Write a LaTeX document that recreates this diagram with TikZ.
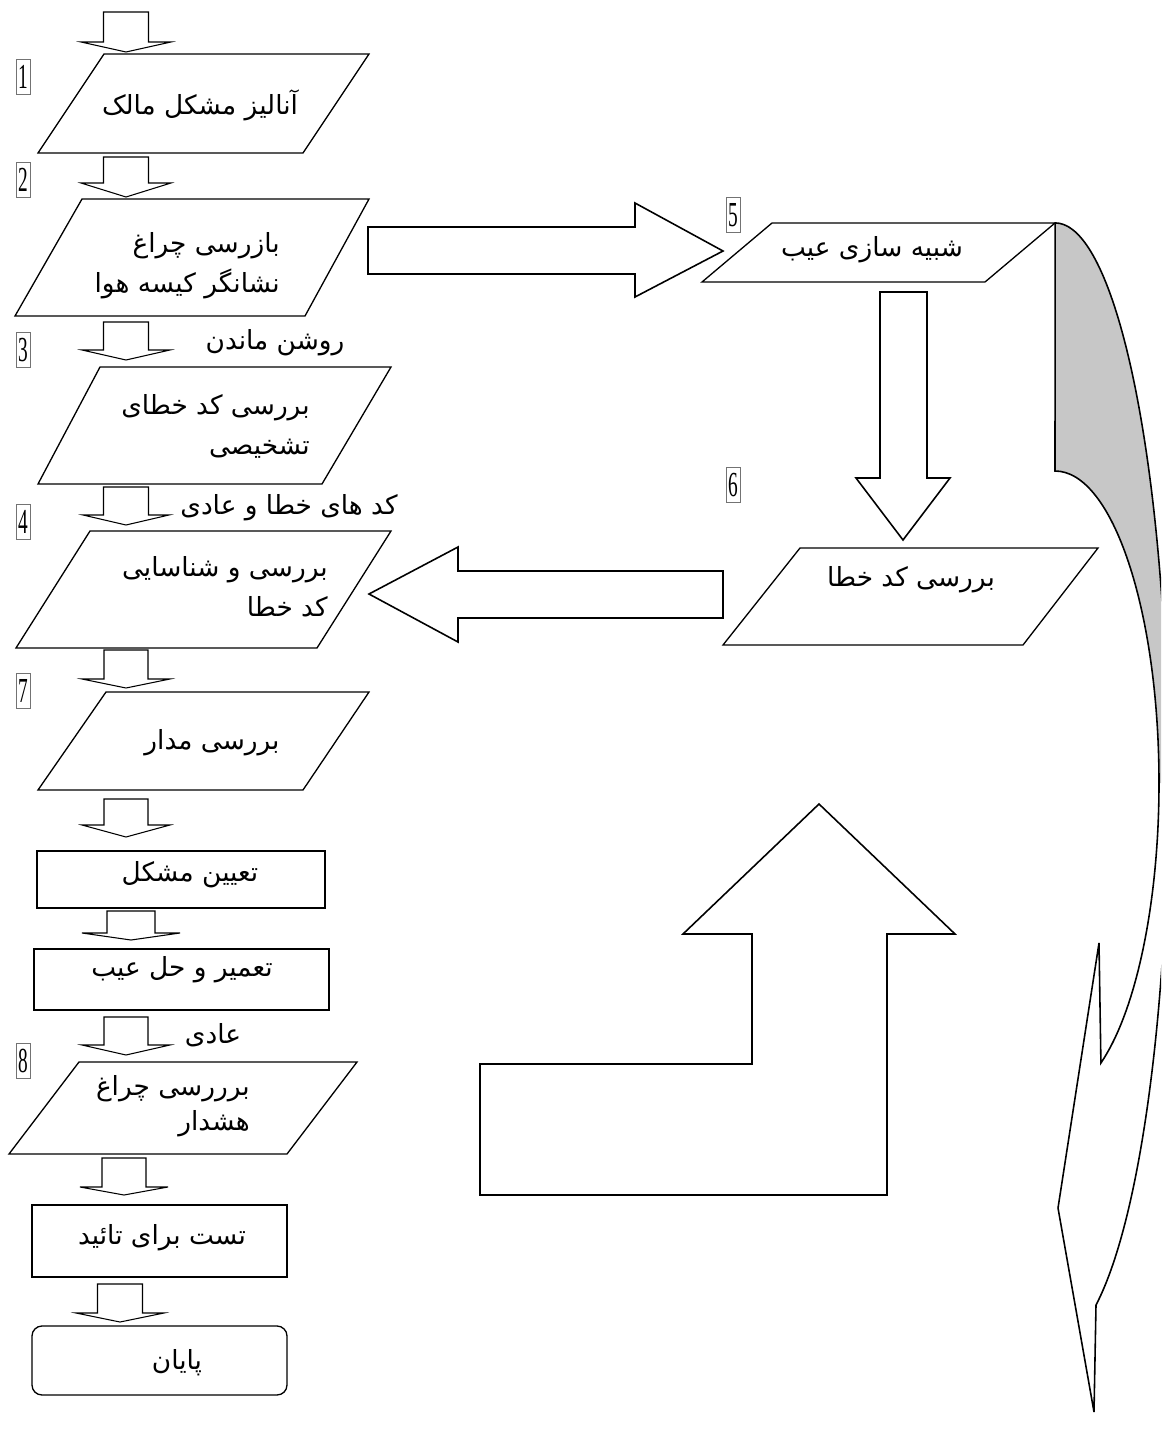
\documentclass[tikz,border=0pt]{standalone}
\usepackage{graphicx}
\usepackage{fontspec}
\setmainfont{Liberation Serif}
\newfontfamily\farsi[Script=Arabic]{DejaVu Sans}
\TeXXeTstate=1
\newcommand{\fatext}[1]{\beginR#1\endR}

\tikzset{
    box/.style={draw, line width=0.75pt},
    thickbox/.style={draw, line width=1.5pt},
    flow/.style={draw, line width=0.6pt, fill=white},
    bigflow/.style={draw, line width=0.9pt, line join=miter},
    lbl/.style={font=\farsi\fontsize{15}{22.7}\selectfont, align=right, inner sep=0pt},
    numtag/.style={draw=black!55, line width=0.4pt, inner xsep=1.2pt, inner ysep=3.4pt,
        font=\fontsize{20}{20}\selectfont},
}

\begin{document}
\begin{tikzpicture}[x=0.02cm, y=-0.02cm]
    \path[use as bounding box] (0,0) rectangle (1161,1437);
    \clip (0,0) rectangle (1161,1437);

    % small arrows of the main column
    \foreach \cx/\sw/\hw/\yt/\ys/\yp in {126/22.5/45/12/42/52, 126/22.5/45/157/183/197,
        126/22.5/44/322/350/360, 126/22.5/43/487/515/525, 126/22/44/650/679/688,
        126/22/44/799/825/837, 131/24/49/911/933/940, 126/22/44/1017/1045/1055,
        124/22/44/1158/1187/1195, 120/22.5/44/1284/1313/1322} {
        \draw[flow] (\cx-\sw,\yt) -- (\cx+\sw,\yt) -- (\cx+\sw,\ys) -- (\cx+\hw,\ys)
            -- (\cx,\yp) -- (\cx-\hw,\ys) -- (\cx-\sw,\ys) -- cycle;
    }

    % input/output boxes
    \foreach \a/\b/\c/\d/\yt/\yb in {104/369/303/38/54/153, 82/369/305/15/199/316,
        100/391/322/38/367/484, 90/391/317/16/531/648, 106/369/303/38/692/790,
        79/357/287/9/1062/1154, 772/1055/985/702/223/282, 800/1098/1023/723/548/645} {
        \draw[box] (\a,\yt) -- (\b,\yt) -- (\c,\yb) -- (\d,\yb) -- cycle;
    }

    % process boxes
    \draw[thickbox] (37,851) rectangle (325,908);
    \draw[thickbox] (34,949) rectangle (329,1010);
    \draw[thickbox] (32,1205) rectangle (287,1277);
    \draw[box, rounded corners=0.2cm] (32,1326) rectangle (287,1395);

    % big arrows on the right
    \draw[bigflow] (368,227) -- (635,227) -- (635,203) -- (723,251) -- (635,297)
        -- (635,274) -- (368,274) -- cycle;
    \draw[bigflow] (880,292) -- (927,292) -- (927,478) -- (950,478) -- (903,540)
        -- (856,478) -- (880,478) -- cycle;
    \draw[bigflow] (723,571) -- (458,571) -- (458,547) -- (369,594) -- (458,642)
        -- (458,618) -- (723,618) -- cycle;
    \draw[bigflow] (819,804) -- (955,934) -- (887,934) -- (887,1195) -- (480,1195)
        -- (480,1064) -- (752,1064) -- (752,934) -- (683,934) -- cycle;

    % curved arrow, shaded back first
    \fill[black!22] (1055,223) -- (1055,471)
        arc[start angle=-90, end angle=0, x radius=104, y radius=312] -- (1168,783)
        arc[start angle=0, end angle=-90, x radius=113, y radius=560] -- cycle;
    \draw[bigflow] (1099,943) -- (1058,1208) -- (1094,1412) -- (1096,1305)
        arc[start angle=68.8, end angle=-90, x radius=113, y radius=560] -- (1055,471)
        arc[start angle=-90, end angle=63.8, x radius=104, y radius=312] -- cycle;

    % step numbers
    \node[numtag] (n1) at (23,77)   {\scalebox{0.55}[1]{1}};
    \node[numtag] (n2) at (23,180)  {\scalebox{0.55}[1]{2}};
    \node[numtag] (n3) at (23,350)  {\scalebox{0.55}[1]{3}};
    \node[numtag] (n4) at (23,522)  {\scalebox{0.55}[1]{4}};
    \node[numtag] (n5) at (733,215) {\scalebox{0.55}[1]{5}};
    \node[numtag] (n6) at (733,485) {\scalebox{0.55}[1]{6}};
    \node[numtag] (n7) at (23,691)  {\scalebox{0.55}[1]{7}};
    \node[numtag] (n8) at (23,1061) {\scalebox{0.55}[1]{8}};

    % texts
    \node[lbl] (owner) at (200,105) {\fatext{آنالیز مشکل مالک}};
    \node[lbl, anchor=east] (lamp) at (280,266) {\fatext{بازرسی چراغ}\\\fatext{نشانگر کیسه هوا}};
    \node[lbl] (stayon) at (275,343) {\fatext{روشن ماندن}};
    \node[lbl, anchor=east] (diag) at (310,426) {\fatext{بررسی کد خطای}\\\fatext{تشخیصی}};
    \node[lbl] (codes) at (289,508) {\fatext{کد های خطا و عادی}};
    \node[lbl, anchor=east] (ident) at (328,587) {\fatext{بررسی و شناسایی}\\\fatext{کد خطا}};
    \node[lbl] (circuit) at (212,743) {\fatext{بررسی مدار}};
    \node[lbl] (fault) at (190,875) {\fatext{تعیین مشکل}};
    \node[lbl] (repair) at (182,970) {\fatext{تعمیر و حل عیب}};
    \node[lbl] (normal) at (213,1035) {\fatext{عادی}};
    \node[lbl, anchor=east, font=\farsi\fontsize{15}{19.8}\selectfont] (warn) at (250,1106)
        {\fatext{برررسی چراغ}\\\fatext{هشدار}};
    \node[lbl] (verify) at (162,1238) {\fatext{تست برای تائید}};
    \node[lbl] (finish) at (177,1363) {\fatext{پایان}};
    \node[lbl] (simulate) at (872,250) {\fatext{شبیه سازی عیب}};
    \node[lbl] (check) at (911,580) {\fatext{بررسی کد خطا}};
\end{tikzpicture}
\end{document}
